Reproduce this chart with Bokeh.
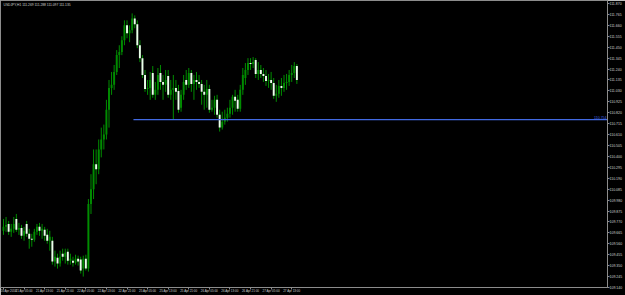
from bokeh.plotting import figure
from bokeh.models import FixedTicker, PrintfTickFormatter, Label
from bokeh.embed import file_html
from bokeh.resources import INLINE

symbol = "USDJPY,H1"

opens = [109.685, 109.723, 109.751, 109.675, 109.704, 109.799, 109.694, 109.713, 109.637, 109.751,
         109.656, 109.608, 109.599, 109.675, 109.723, 109.685, 109.694, 109.646, 109.589, 109.589,
         109.389, 109.427, 109.370, 109.465, 109.436, 109.484, 109.398, 109.398, 109.379, 109.417,
         109.408, 109.322, 109.417, 109.322, 109.942, 110.085, 110.324, 110.276, 110.467, 110.563,
         110.610, 110.849, 111.059, 111.088, 111.212, 111.374, 111.403, 111.517, 111.660, 111.584,
         111.613, 111.727, 111.670, 111.469, 111.345, 111.183, 111.049, 111.059, 111.202, 110.992,
         111.040, 111.202, 111.116, 111.088, 111.174, 110.992, 111.040, 111.059, 111.030, 110.868,
         110.992, 111.135, 111.088, 111.202, 111.097, 111.135, 111.116, 111.097, 111.021, 110.992,
         111.049, 110.849, 110.868, 110.944, 110.801, 110.677, 110.734, 110.773, 110.811, 110.868,
         110.973, 110.944, 110.859, 111.040, 111.154, 111.231, 111.298, 111.288, 111.326, 111.193,
         111.231, 111.193, 111.174, 111.126, 111.135, 111.107, 110.983, 111.002, 111.078, 111.059,
         111.107, 111.116, 111.183, 111.202, 111.269]
highs = [109.799, 109.818, 109.780, 109.751, 109.818, 109.847, 109.761, 109.742, 109.723, 109.780,
         109.704, 109.656, 109.704, 109.751, 109.761, 109.751, 109.723, 109.704, 109.685, 109.627,
         109.494, 109.465, 109.494, 109.513, 109.513, 109.513, 109.465, 109.436, 109.455, 109.446,
         109.436, 109.446, 109.455, 109.990, 110.229, 110.467, 110.467, 110.563, 110.677, 110.706,
         110.944, 111.135, 111.212, 111.279, 111.422, 111.469, 111.555, 111.708, 111.708, 111.660,
         111.775, 111.756, 111.708, 111.517, 111.374, 111.231, 111.135, 111.212, 111.269, 111.116,
         111.250, 111.279, 111.183, 111.231, 111.231, 111.135, 111.183, 111.135, 111.088, 111.040,
         111.183, 111.231, 111.250, 111.231, 111.183, 111.212, 111.183, 111.135, 111.088, 111.135,
         111.088, 110.944, 110.983, 110.992, 110.849, 110.830, 110.849, 110.868, 110.944, 110.992,
         111.040, 110.992, 111.088, 111.250, 111.298, 111.345, 111.345, 111.355, 111.345, 111.307,
         111.279, 111.250, 111.231, 111.193, 111.212, 111.154, 111.088, 111.135, 111.154, 111.183,
         111.193, 111.231, 111.279, 111.307, 111.288]
lows = [109.646, 109.675, 109.646, 109.627, 109.665, 109.675, 109.646, 109.608, 109.589, 109.627,
        109.513, 109.532, 109.580, 109.646, 109.637, 109.608, 109.589, 109.561, 109.494, 109.360,
        109.341, 109.322, 109.341, 109.398, 109.370, 109.360, 109.360, 109.341, 109.360, 109.351,
        109.274, 109.245, 109.303, 109.293, 109.847, 109.990, 110.133, 110.229, 110.391, 110.467,
        110.563, 110.677, 110.992, 111.040, 111.183, 111.250, 111.374, 111.469, 111.536, 111.498,
        111.584, 111.632, 111.441, 111.307, 111.154, 111.021, 110.992, 110.944, 110.964, 110.944,
        110.992, 111.040, 110.944, 111.021, 110.964, 110.944, 110.754, 110.944, 110.820, 110.830,
        110.944, 111.040, 111.059, 111.021, 110.944, 111.040, 111.059, 110.897, 110.849, 110.868,
        110.820, 110.830, 110.801, 110.773, 110.639, 110.658, 110.706, 110.734, 110.773, 110.801,
        110.830, 110.830, 110.830, 110.992, 111.088, 111.183, 111.231, 111.250, 111.154, 111.135,
        111.154, 111.116, 111.078, 111.059, 111.040, 110.954, 110.925, 110.964, 110.983, 111.021,
        111.040, 111.078, 111.116, 111.154, 111.097]
closes = [109.723, 109.742, 109.675, 109.704, 109.751, 109.694, 109.713, 109.637, 109.685, 109.656,
          109.608, 109.599, 109.675, 109.723, 109.685, 109.704, 109.637, 109.589, 109.627, 109.389,
          109.436, 109.370, 109.436, 109.436, 109.475, 109.398, 109.417, 109.379, 109.417, 109.389,
          109.303, 109.417, 109.322, 109.942, 110.085, 110.324, 110.276, 110.467, 110.563, 110.610,
          110.849, 111.059, 111.088, 111.212, 111.374, 111.403, 111.517, 111.660, 111.584, 111.613,
          111.727, 111.670, 111.469, 111.345, 111.183, 111.049, 111.059, 111.135, 110.992, 111.040,
          111.183, 111.116, 111.088, 111.135, 110.992, 111.040, 111.059, 111.021, 110.849, 110.992,
          111.116, 111.088, 111.202, 111.097, 111.135, 111.116, 111.097, 111.021, 110.992, 111.049,
          110.849, 110.868, 110.944, 110.801, 110.677, 110.734, 110.773, 110.811, 110.868, 110.973,
          110.935, 110.859, 111.040, 111.183, 111.231, 111.298, 111.288, 111.307, 111.193, 111.231,
          111.193, 111.174, 111.126, 111.135, 111.107, 110.983, 111.002, 111.078, 111.059, 111.107,
          111.116, 111.183, 111.202, 111.269, 111.135]

x_tick_bars = [0, 8, 16, 24, 32, 40, 48, 56, 64, 72, 80, 88, 96, 104, 112]
x_tick_labels = ["20 Apr 2016", "21 Apr 05:00", "21 Apr 13:00", "21 Apr 21:00", "22 Apr 05:00",
                 "22 Apr 13:00", "22 Apr 21:00", "25 Apr 05:00", "25 Apr 13:00", "25 Apr 21:00",
                 "26 Apr 05:00", "26 Apr 13:00", "26 Apr 21:00", "27 Apr 05:00", "27 Apr 13:00"]
y_ticks = [111.870, 111.765, 111.660, 111.555, 111.450, 111.345, 111.240, 111.135, 111.030,
           110.925, 110.820, 110.715, 110.610, 110.505, 110.400, 110.295, 110.190, 110.085,
           109.980, 109.875, 109.770, 109.665, 109.560, 109.455, 109.350, 109.245, 109.140]
level_price = 110.754
level_start_bar = 50.5

n = len(opens)
bars = list(range(n))
bull = [i for i in bars if closes[i] >= opens[i]]
bear = [i for i in bars if closes[i] < opens[i]]

X0, X1 = -1.16, 234.7
p = figure(width=625, height=295, output_backend="svg", toolbar_location=None,
           x_range=(X0, X1), y_range=(109.140, 111.899), y_axis_location="right",
           min_border_left=0, min_border_right=0, min_border_top=0, min_border_bottom=0,
           background_fill_color="black", border_fill_color="black")
p.grid.visible = False
p.outline_line_color = "#8c8c8c"

wick = "#008c00"
p.segment(bars, highs, bars, lows, line_color=wick, line_width=1)
p.vbar(x=bull, top=[closes[i] for i in bull], bottom=[opens[i] for i in bull], width=0.75,
       fill_color="#008c00", line_color=None)
p.vbar(x=bear, top=[opens[i] for i in bear], bottom=[closes[i] for i in bear], width=0.75,
       fill_color="#eaffea", line_color=None)

p.segment(x0=[level_start_bar], y0=[level_price], x1=[X1], y1=[level_price],
          line_color="#4169e1", line_width=1.2)
p.add_layout(Label(x=X1, y=level_price, text=f"{level_price:.3f}", text_align="right",
                   text_baseline="bottom", x_offset=-1, y_offset=1, text_color="#4169e1",
                   text_font_size="3.5px", text_font="Liberation Sans"))

p.add_layout(Label(x=X0, y=111.899, x_offset=3, y_offset=-2,
                   text=f"{symbol}  {opens[-1]:.3f} {highs[-1]:.3f} {lows[-1]:.3f} {closes[-1]:.3f}",
                   text_baseline="top", text_color="#d0d0d0", text_font_size="3.3px",
                   text_font="Liberation Sans"))

for ax in (p.xaxis, p.yaxis):
    ax.axis_line_color = "#8c8c8c"
    ax.major_tick_line_color = "#8c8c8c"
    ax.minor_tick_line_color = None
    ax.major_tick_in = 0
    ax.major_tick_out = 2
    ax.major_label_standoff = 0
    ax.major_label_text_color = "#d0d0d0"
    ax.major_label_text_font = "Liberation Sans"

p.yaxis.ticker = FixedTicker(ticks=y_ticks)
p.yaxis.formatter = PrintfTickFormatter(format="%.3f")
p.yaxis.major_label_text_font_size = "3.5px"

p.xaxis.ticker = FixedTicker(ticks=x_tick_bars)
p.xaxis.major_label_overrides = {b: t for b, t in zip(x_tick_bars, x_tick_labels)}
p.xaxis.major_label_text_font_size = "3px"
p.xaxis.major_label_text_align = "left"

open("out.html", "w").write(file_html(p, INLINE))
